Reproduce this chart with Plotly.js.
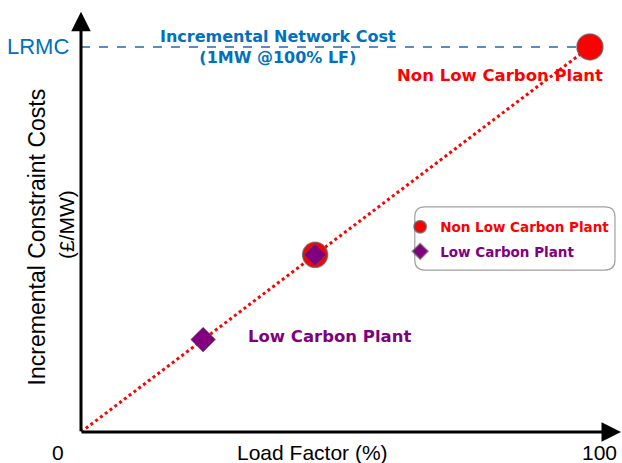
<!DOCTYPE html>
<html>
<head>
<meta charset="utf-8">
<script src="https://cdn.plot.ly/plotly-3.0.1.min.js"></script>
<style>html,body{margin:0;padding:0;background:#fff;}#chart{width:622px;height:463px;}</style>
</head>
<body>
<div id="chart"></div>
<script>
// ---- data ----
const lineX = [0, 100];            // incremental constraint cost line (load factor %)
const lineY = [0, 100];
const lrmcX = [0, 100];            // LRMC level
const lrmcY = [100, 100];
const nonLowX = [100, 46];         // Non Low Carbon Plant points
const nonLowY = [100, 46];
const lowX = [46, 24];             // Low Carbon Plant points
const lowY = [46, 24];
const xTickLabels = ['0', '100'];
const seriesNames = ['Non Low Carbon Plant', 'Low Carbon Plant'];

const RED = '#ff0000', PURPLE = '#800080', BLUE = '#0070c0';
const XMAX = 106.3, YMAX = 110.1;

const traces = [
  {x: lineX, y: lineY, mode: 'lines', showlegend: false, hoverinfo: 'skip',
   line: {color: RED, width: 3, dash: 'dot'}},
  {x: lrmcX, y: lrmcY, mode: 'lines', showlegend: false, hoverinfo: 'skip',
   line: {color: '#5d8ac0', width: 2, dash: 'dash'}},
  {x: nonLowX, y: nonLowY, mode: 'markers', legendgroup: 'a',
   name: '<span style="color:' + RED + '"><b>' + seriesNames[0] + '</b></span>',
   marker: {symbol: 'circle', color: RED, opacity: 1, size: [26, 25], line: {color: 'rgba(90,90,90,0.7)', width: 1.5}}},
  {x: lowX, y: lowY, mode: 'markers', legendgroup: 'b',
   name: '<span style="color:' + PURPLE + '"><b>' + seriesNames[1] + '</b></span>',
   marker: {symbol: 'diamond', color: PURPLE, opacity: 1, size: [17, 19], line: {color: 'rgba(90,90,90,0.5)', width: 1}}}
];

function rr(x0, y0, x1, y1, rx, ry) {
  return `M${x0+rx},${y0} L${x1-rx},${y0} Q${x1},${y0} ${x1},${y0+ry} L${x1},${y1-ry} Q${x1},${y1} ${x1-rx},${y1} L${x0+rx},${y1} Q${x0},${y1} ${x0},${y1-ry} L${x0},${y0+ry} Q${x0},${y0} ${x0+rx},${y0} Z`;
}

const layout = {
  width: 622, height: 463,
  margin: {l: 81, r: 0, t: 8, b: 31},
  paper_bgcolor: '#fff', plot_bgcolor: '#fff',
  font: {family: 'Liberation Sans, Arial, sans-serif', color: '#000'},
  xaxis: {range: [0, XMAX], showgrid: false, zeroline: false, showticklabels: false, ticks: '', showline: false, fixedrange: true},
  yaxis: {range: [0, YMAX], showgrid: false, zeroline: false, showticklabels: false, ticks: '', showline: false, fixedrange: true},
  showlegend: true,
  legend: {x: 0.59, y: 0.52, xanchor: 'left', yanchor: 'top', bgcolor: 'rgba(0,0,0,0)', borderwidth: 0,
    itemsizing: 'constant', tracegroupgap: 4,
    font: {family: 'DejaVu Sans', size: 13.5}},
  shapes: [
    {type: 'path', xref: 'paper', yref: 'paper', path: rr(0.617, 0.382, 0.987, 0.531, 0.0185, 0.0236),
     line: {color: '#a0a0a0', width: 1.2}, fillcolor: 'rgba(0,0,0,0)', layer: 'below'}
  ],
  annotations: [
    // axes with arrows
    {x: XMAX - 0.2, y: 0, ax: -0.2, ay: 0, xref: 'x', yref: 'y', axref: 'x', ayref: 'y', text: '',
     showarrow: true, arrowhead: 2, arrowsize: 1.3, arrowwidth: 3, arrowcolor: '#000'},
    {x: 0, y: YMAX - 1, ax: 0, ay: -0.2, xref: 'x', yref: 'y', axref: 'x', ayref: 'y', text: '',
     showarrow: true, arrowhead: 2, arrowsize: 1.3, arrowwidth: 3, arrowcolor: '#000'},
    // tick labels
    {x: 0, y: 0, xref: 'x', yref: 'y', text: xTickLabels[0], showarrow: false, xanchor: 'center', xshift: -23, yshift: -20,
     font: {size: 21, color: '#000'}},
    {x: 100, y: 0, xref: 'x', yref: 'y', text: xTickLabels[1], showarrow: false, xanchor: 'center', xshift: 10, yshift: -20,
     font: {size: 21, color: '#000'}},
    // axis titles
    {x: 0.427, y: 0, xref: 'paper', yref: 'y', text: 'Load Factor (%)', showarrow: false, xanchor: 'center', yshift: -20,
     font: {size: 21, color: '#000'}},
    {x: 0, y: 0.459, xref: 'paper', yref: 'paper', text: 'Incremental Constraint Costs',
     showarrow: false, textangle: -90, xanchor: 'center', yanchor: 'middle', xshift: -44, font: {size: 23, color: '#000'}},
    {x: 0, y: 0.488, xref: 'paper', yref: 'paper', text: '(£/MW)',
     showarrow: false, textangle: -90, xanchor: 'center', yanchor: 'middle', xshift: -15, font: {size: 21, color: '#000'}},
    // LRMC
    {x: 0, y: 100, xref: 'x', yref: 'y', text: 'LRMC', showarrow: false, xanchor: 'right', xshift: -10,
     font: {size: 22, color: BLUE}},
    {x: 38.7, y: 100, xref: 'x', yref: 'y', text: '<b>Incremental Network Cost<br>(1MW @100% LF)</b>', showarrow: false,
     xanchor: 'center', font: {family: 'DejaVu Sans', size: 16, color: BLUE}},
    {x: 82.3, y: 92.7, xref: 'x', yref: 'y', text: '<b>Non Low Carbon Plant</b>', showarrow: false,
     xanchor: 'center', font: {family: 'DejaVu Sans', size: 16.5, color: RED}},
    {x: 48.9, y: 24.7, xref: 'x', yref: 'y', text: '<b>Low Carbon Plant</b>', showarrow: false,
     xanchor: 'center', font: {family: 'DejaVu Sans', size: 16.5, color: PURPLE}}
  ]
};

Plotly.newPlot('chart', traces, layout, {displayModeBar: false, staticPlot: true});
</script>
</body>
</html>
